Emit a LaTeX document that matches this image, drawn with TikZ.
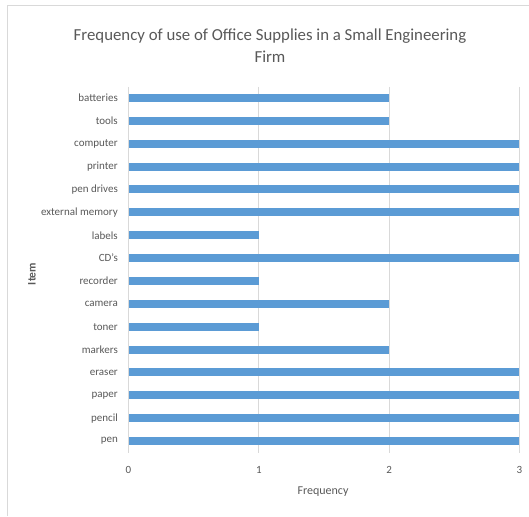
\documentclass[tikz,border=0pt]{standalone}
\usepackage{fontspec}
\setmainfont{Carlito}
\definecolor{txt}{HTML}{595959}
\definecolor{barc}{HTML}{5B9BD5}
\definecolor{grid}{HTML}{D9D9D9}
\definecolor{frame}{HTML}{D9D9D9}
\tikzset{
  lbl/.style={anchor=east, text=txt, font=\fontsize{11}{12}\selectfont, inner sep=0pt},
  tick/.style={anchor=center, text=txt, font=\fontsize{11}{12}\selectfont, inner sep=0pt},
  barstyle/.style={fill=barc, draw=none},
  gridline/.style={draw=grid, line width=0.8pt},
}
\begin{document}
\begin{tikzpicture}[x=1pt,y=-1pt]
\useasboundingbox (0,0) rectangle (529,516);
\fill[white] (0,0) rectangle (529,516);
\draw[frame, line width=1pt] (7,516) -- (7,6) -- (529,6);
% title
\node[text=txt, font=\fontsize{16.8}{22}\selectfont, align=center, inner sep=0pt] (title) at (270,46) {Frequency of use of Office Supplies in a Small Engineering\\Firm};
% grid
\foreach \v in {0,1,2,3} {
  \draw[gridline] ({128.5+130.3*\v},87) -- ({128.5+130.3*\v},453);
  \node[tick] (t\v) at ({128.5+130.3*\v},470) {\v};
}
% bars
\foreach \name/\val [count=\i from 0] in {batteries/2,tools/2,computer/3,printer/3,pen drives/3,external memory/3,labels/1,CD's/3,recorder/1,camera/2,toner/1,markers/2,eraser/3,paper/3,pencil/3,pen/3} {
  \pgfmathsetmacro{\yc}{98+22.87*\i}
  \fill[barstyle] (129,\yc-4) rectangle ({128.5+130.3*\val},\yc+4);
  \node[lbl] (l\i) at (118,\yc) {\name};
}
\node[text=txt, font=\fontsize{12}{14}\selectfont, inner sep=0pt] (xlab) at (323,492) {Frequency};
\node[text=txt, font=\bfseries\fontsize{11.5}{12}\selectfont, inner sep=0pt, rotate=90] (ylab) at (32,274) {Item};
\end{tikzpicture}
\end{document}
